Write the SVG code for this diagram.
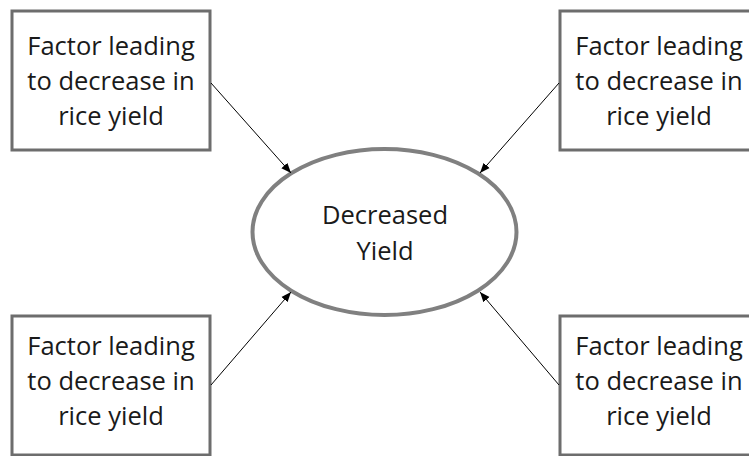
<svg xmlns="http://www.w3.org/2000/svg" width="749" height="456" viewBox="0 0 749 456">
<style>
.box{fill:#fff;stroke:#6d6d6d;stroke-width:3}
.t{font-family:"Open Sans","Liberation Sans",sans-serif;font-size:25.5px;fill:#1a1a1a;text-anchor:middle}
.c{stroke:#000;stroke-width:1;fill:none;marker-end:url(#ah)}
</style>
<defs>
<marker id="ah" viewBox="0 0 10 10" refX="10" refY="5" markerWidth="10" markerHeight="10" markerUnits="userSpaceOnUse" orient="auto">
<path d="M0,1 L10,5 L0,9 z" fill="#000"/>
</marker>
</defs>
<rect width="749" height="456" fill="#fff"/>
<g id="center">
<ellipse cx="384.5" cy="232" rx="132" ry="83" fill="#fff" stroke="#808080" stroke-width="4"/>
<text class="t" x="385" y="224">Decreased</text>
<text class="t" x="385" y="260">Yield</text>
</g>
<g id="f1">
<rect class="box" x="12" y="11" width="198" height="139"/>
<text class="t" x="111" y="55">Factor leading</text>
<text class="t" x="111" y="90">to decrease in</text>
<text class="t" x="111" y="125">rice yield</text>
</g>
<g id="f2">
<rect class="box" x="560" y="11" width="198" height="139"/>
<text class="t" x="659" y="55">Factor leading</text>
<text class="t" x="659" y="90">to decrease in</text>
<text class="t" x="659" y="125">rice yield</text>
</g>
<g id="f3">
<rect class="box" x="12" y="316" width="198" height="139"/>
<text class="t" x="111" y="355">Factor leading</text>
<text class="t" x="111" y="390">to decrease in</text>
<text class="t" x="111" y="425">rice yield</text>
</g>
<g id="f4">
<rect class="box" x="560" y="316" width="198" height="139"/>
<text class="t" x="659" y="355">Factor leading</text>
<text class="t" x="659" y="390">to decrease in</text>
<text class="t" x="659" y="425">rice yield</text>
</g>
<g id="connectors">
<line class="c" x1="211" y1="83" x2="291" y2="173"/>
<line class="c" x1="559" y1="83" x2="480" y2="173"/>
<line class="c" x1="211" y1="385" x2="291" y2="292"/>
<line class="c" x1="559" y1="385" x2="480" y2="292"/>
</g>
</svg>
